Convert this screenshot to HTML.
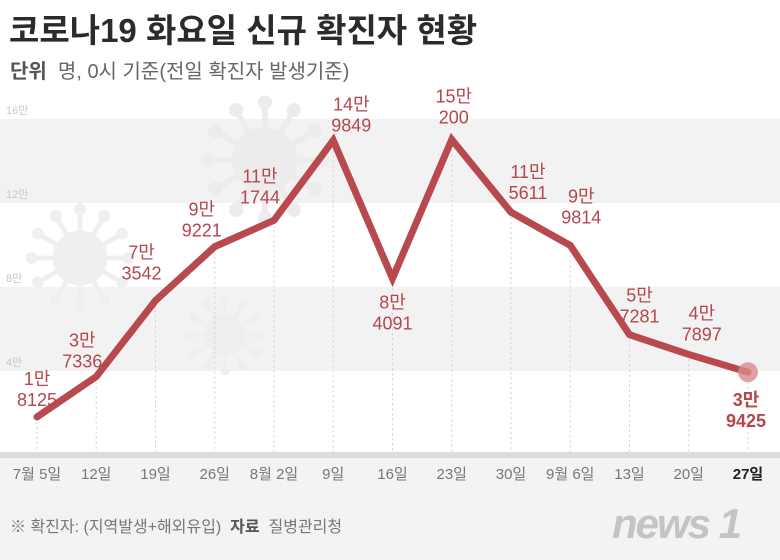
<!DOCTYPE html>
<html><head><meta charset="utf-8">
<style>
html,body{margin:0;padding:0;}
body{width:780px;height:560px;position:relative;overflow:hidden;background:#fff;font-family:"Liberation Sans","Noto Sans CJK KR",sans-serif;}
#title{position:absolute;left:9px;top:4px;font-size:33px;font-weight:bold;color:#2b2b2b;letter-spacing:0px;white-space:nowrap;}
#sub{position:absolute;left:10px;top:55px;font-size:20px;color:#666;white-space:nowrap;letter-spacing:0px;}
#sub b{color:#555;}
#foot{position:absolute;left:10px;top:513px;font-size:16px;color:#777;white-space:nowrap;}
#foot b{color:#555;}
#logo{position:absolute;left:612px;top:500px;font-size:42px;font-style:italic;font-weight:bold;color:#c4c4c4;letter-spacing:-2px;}
svg{position:absolute;left:0;top:0;}
</style></head><body>
<svg id="chart" width="780" height="560"></svg>
<div id="title">코로나19 화요일 신규 확진자 현황</div>
<div id="sub"><b>단위</b>&nbsp; 명, 0시 기준(전일 확진자 발생기준)</div>
<div id="foot">※ 확진자: (지역발생+해외유입)&nbsp; <b>자료</b>&nbsp; 질병관리청</div>
<div id="logo">news 1</div>
<script>
const categories=["7월 5일","12일","19일","26일","8월 2일","9일","16일","23일","30일","9월 6일","13일","20일","27일"];
const values=[18125,37336,73542,99221,111744,149849,84091,150200,115611,99814,57281,47897,39425];
const valueLabels=[["1만","8125"],["3만","7336"],["7만","3542"],["9만","9221"],["11만","1744"],["14만","9849"],["8만","4091"],["15만","200"],["11만","5611"],["9만","9814"],["5만","7281"],["4만","7897"],["3만","9425"]];
const yTicks=[40000,80000,120000,160000];
const yTickLabels=["4만","8만","12만","16만"];
const NS="http://www.w3.org/2000/svg";
const svg=document.getElementById('chart');
const x=i=>37+i*59.25;
const y=v=>455-v*84/40000;
function mk(t,a,p){const e=document.createElementNS(NS,t);for(const k in a)e.setAttribute(k,a[k]);(p||svg).appendChild(e);return e;}
let bg=mk('rect',{x:0,y:458,width:780,height:102,fill:'#f3f3f3'});


for(let k=0;k<yTicks.length;k+=2){
  const b=mk('rect',{x:0,y:y(yTicks[k+1]),width:780,height:y(yTicks[k])-y(yTicks[k+1]),fill:'#f2f2f2'});
  
  
}
function virus(cx,cy,r,c){const g=mk('g',{fill:c,stroke:c});
  mk('circle',{cx:cx,cy:cy,r:r},g);
  for(let a=0;a<12;a++){const t=a*Math.PI/6;mk('line',{x1:cx,y1:cy,x2:cx+Math.cos(t)*r*1.8,y2:cy+Math.sin(t)*r*1.8,'stroke-width':r*0.18},g);
  mk('circle',{cx:cx+Math.cos(t)*r*1.8,cy:cy+Math.sin(t)*r*1.8,r:r*0.22,stroke:'none'},g);}
  
  }
virus(80,258,27,'#efefef');virus(225,335,20,'#eeeeee');virus(265,160,32,'#ececec');
yTicks.forEach((t,i)=>{const e=mk('text',{x:6,y:y(t)-5,'font-size':11,fill:'#c8c8c8'});e.textContent=yTickLabels[i];
  
  });
let bl=mk('rect',{x:0,y:452,width:780,height:6,fill:'#dcdcdc'});


values.forEach((v,i)=>{const g=mk('line',{x1:x(i),x2:x(i),y1:y(v),y2:452,stroke:'#cfcfcf','stroke-dasharray':'2,3','stroke-width':1});
  
  });
categories.forEach((c,i)=>{const e=mk('text',{x:x(i),y:479,'text-anchor':'middle','font-size':15,fill:i==12?'#222':'#777','font-weight':i==12?'bold':'normal'});e.textContent=c;
  
  });
const pl=mk('polyline',{points:values.map((v,i)=>x(i)+','+y(v)).join(' '),fill:'none',stroke:'#b84a4f','stroke-width':7,'stroke-linejoin':'miter','stroke-linecap':'round'});


const last=values.length-1;
const hl=mk('circle',{cx:x(last),cy:y(values[last]),r:10,fill:'#d9898c',opacity:0.8});


const off=[[0,-32],[-14,-30],[-14,-42],[-13,-31],[-14,-38],[18,-30],[0,30],[2,-37],[17,-34],[11,-43],[10,-33],[13,-35],[-2,34]];
values.forEach((v,i)=>{const t=mk('text',{x:x(i)+off[i][0],y:y(v)+off[i][1],'text-anchor':'middle','font-size':18,fill:'#b5474c','font-weight':i==last?'bold':'normal'});
  valueLabels[i].forEach((s,j)=>{const ts=mk('tspan',{x:x(i)+off[i][0],dy:j?21:0},t);ts.textContent=s;});
  
  });
</script>
</body></html>
